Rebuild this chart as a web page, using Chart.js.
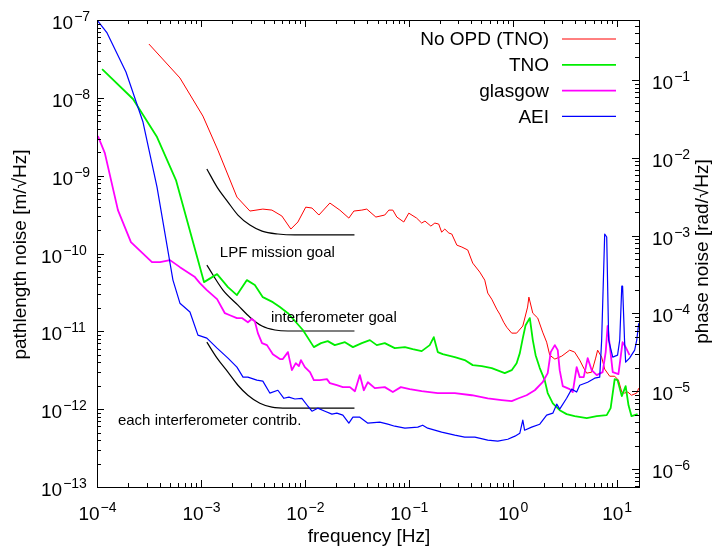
<!DOCTYPE html>
<html><head><meta charset="utf-8">
<script src="https://cdn.jsdelivr.net/npm/chart.js@4"></script>
<style>html,body{margin:0;padding:0;background:#fff;overflow:hidden}canvas{display:block}</style>
</head><body>
<canvas id="c" width="715" height="553"></canvas>
<script>
// ---------- axis ranges & tick labels ----------
const xRange = [1e-4, 16.4];
const leftRange = [1e-13, 1e-7];
const rightRange = [5.9e-7, 0.59];
const xTickExponents = [-4, -3, -2, -1, 0, 1];
const leftTickExponents = [-13, -12, -11, -10, -9, -8, -7];
const rightTickExponents = [-6, -5, -4, -3, -2, -1];
const xTitle = 'frequency [Hz]';
const leftTitle = 'pathlength noise [m/\u221AHz]';
const rightTitle = 'phase noise [rad/\u221AHz]';

// ---------- series: [frequency Hz, pathlength noise m/sqrtHz] ----------
const seriesNames = ['No OPD (TNO)', 'TNO', 'glasgow', 'AEI'];
const seriesColors = ['#ff0000', '#00ee00', '#ff00ff', '#0000ff'];
const seriesWidths = [1, 1.8, 1.8, 1.2];

const noOpdTno = [[3.16e-4,4.91e-8],[6.28e-4,1.8e-8],[1.045e-3,5.83e-9],[1.455e-3,2.13e-9],[2.22e-3,5.31e-10],[2.96e-3,3.51e-10],[3.94e-3,3.72e-10],[4.82e-3,3.61e-10],[6.01e-3,3.03e-10],[7.33e-3,2.06e-10],[8.57e-3,2.54e-10],[1.02e-2,3.94e-10],[1.17e-2,3.84e-10],[1.365e-2,3.12e-10],[1.74e-2,4.45e-10],[2.17e-2,3.61e-10],[2.65e-2,2.85e-10],[2.96e-2,3.51e-10],[3.53e-2,3.61e-10],[3.94e-2,3.72e-10],[4.82e-2,2.94e-10],[5.87e-2,3.12e-10],[6.43e-2,3.61e-10],[7.02e-2,3.61e-10],[7.67e-2,2.94e-10],[8.95e-2,2.54e-10],[0.1,3.30e-10],[0.119,2.85e-10],[0.133,2.46e-10],[0.143,2.61e-10],[0.163,2.25e-10],[0.178,2.46e-10],[0.194,2.39e-10],[0.207,1.88e-10],[0.222,2.06e-10],[0.243,1.83e-10],[0.259,1.78e-10],[0.290,1.28e-10],[0.324,1.21e-10],[0.369,1.11e-10],[0.412,7.53e-11],[0.482,5.77e-11],[0.538,4.55e-11],[0.575,3.10e-11],[0.628,2.59e-11],[0.701,1.93e-11],[0.750,1.66e-11],[0.818,1.31e-11],[0.875,1.13e-11],[0.977,9.48e-12],[1.09,9.48e-12],[1.25,1.17e-11],[1.39,2.05e-11],[1.43,2.75e-11],[1.56,1.71e-11],[1.74,1.48e-11],[1.94,9.77e-12],[2.12,7.26e-12],[2.27,4.94e-12],[2.54,4.40e-12],[2.96,4.80e-12],[3.53,5.73e-12],[3.94,5.41e-12],[4.41,4.27e-12],[4.82,3.37e-12],[5.15,2.90e-12],[5.75,2.99e-12],[6.28,4.53e-12],[6.56,5.73e-12],[7.17,4.66e-12],[7.67,3.27e-12],[8.57,2.65e-12],[9.57,2.65e-12],[10.4,2.36e-12],[11.2,1.66e-12],[11.9,1.61e-12],[12.8,1.66e-12],[13.9,1.51e-12],[15.6,1.61e-12],[16.3,1.86e-12]];

const tno = [[1.12e-4,2.34e-8],[2.22e-4,9.66e-9],[3.78e-4,3.13e-9],[5.75e-4,8.77e-10],[1.07e-3,4.29e-11],[1.43e-3,5.43e-11],[1.82e-3,3.70e-11],[2.22e-3,2.92e-11],[2.77e-3,4.55e-11],[3.30e-3,3.93e-11],[3.94e-3,2.75e-11],[4.92e-3,2.37e-11],[5.75e-3,2.05e-11],[6.87e-3,1.71e-11],[8.38e-3,1.27e-11],[9.57e-3,1.04e-11],[1.22e-2,6.27e-12],[1.43e-2,7.05e-12],[1.66e-2,7.48e-12],[1.94e-2,6.65e-12],[2.43e-2,7.26e-12],[2.90e-2,6.27e-12],[3.53e-2,7.05e-12],[4.22e-2,7.71e-12],[4.92e-2,6.65e-12],[5.87e-2,7.05e-12],[7.33e-2,6.08e-12],[9.17e-2,6.27e-12],[0.109,5.90e-12],[0.133,5.57e-12],[0.159,6.65e-12],[0.174,8.42e-12],[0.190,5.41e-12],[0.212,5.09e-12],[0.277,4.66e-12],[0.345,4.27e-12],[0.412,3.68e-12],[0.504,3.57e-12],[0.628,3.37e-12],[0.838,2.90e-12],[0.977,3.17e-12],[1.09,3.90e-12],[1.17,5.25e-12],[1.25,8.18e-12],[1.33,1.20e-11],[1.46,1.48e-11],[1.56,7.71e-12],[1.66,4.94e-12],[1.82,3.37e-12],[2.03,2.36e-12],[2.17,1.61e-12],[2.43,1.19e-12],[2.83,9.70e-13],[3.30,8.63e-13],[3.94,8.13e-13],[5.15,7.66e-13],[6.43,8.13e-13],[8.02,8.38e-13],[8.75,1.03e-12],[9.57,2.43e-12],[10.2,2.36e-12],[11.2,1.47e-12],[12.2,1.98e-12],[13.0,1.12e-12],[13.9,8.13e-13],[15.9,8.63e-13]];

const glasgow = [[1.02e-4,3.23e-9],[1.19e-4,1.95e-9],[1.59e-4,3.61e-10],[2.12e-4,1.40e-10],[3.38e-4,7.74e-11],[4.04e-4,7.74e-11],[5.04e-4,8.22e-11],[6.28e-4,6.68e-11],[8.75e-4,4.98e-11],[9.77e-4,4.17e-11],[1.14e-3,3.39e-11],[1.43e-3,2.59e-11],[1.70e-3,1.71e-11],[1.90e-3,1.61e-11],[2.22e-3,1.48e-11],[2.48e-3,1.48e-11],[2.83e-3,1.31e-11],[3.09e-3,1.44e-11],[3.30e-3,1.35e-11],[3.53e-3,9.48e-12],[3.87e-3,7.05e-12],[4.32e-3,6.65e-12],[4.92e-3,5.09e-12],[5.75e-3,4.40e-12],[6.14e-3,4.40e-12],[6.87e-3,5.41e-12],[7.50e-3,3.17e-12],[8.18e-3,3.90e-12],[8.75e-3,3.57e-12],[9.17e-3,4.27e-12],[1.0e-2,3.47e-12],[1.12e-2,2.99e-12],[1.22e-2,2.36e-12],[1.39e-2,2.36e-12],[1.63e-2,2.43e-12],[1.74e-2,2.16e-12],[2.03e-2,2.03e-12],[2.32e-2,1.92e-12],[2.71e-2,1.92e-12],[3.03e-2,1.70e-12],[3.38e-2,2.74e-12],[3.69e-2,1.75e-12],[4.04e-2,2.22e-12],[4.71e-2,1.86e-12],[5.87e-2,1.92e-12],[7.02e-2,1.66e-12],[8.38e-2,1.92e-12],[0.102,1.81e-12],[0.133,1.70e-12],[0.190,1.61e-12],[0.277,1.61e-12],[0.404,1.51e-12],[0.575,1.38e-12],[0.783,1.31e-12],[0.977,1.27e-12],[1.14,1.38e-12],[1.36,1.51e-12],[1.63,1.75e-12],[1.94,2.22e-12],[2.17,2.90e-12],[2.32,5.41e-12],[2.54,6.65e-12],[2.71,5.73e-12],[2.83,3.17e-12],[3.03,1.98e-12],[3.53,1.81e-12],[3.78,1.66e-12],[4.12,3.47e-12],[4.41,2.58e-12],[4.82,2.58e-12],[5.26,4.53e-12],[5.75,3.17e-12],[6.43,2.74e-12],[7.33,2.99e-12],[7.84,5.41e-12],[8.18,1.17e-11],[8.57,6.65e-12],[9.17,2.99e-12],[10.4,2.82e-12],[11.4,7.26e-12],[12.2,6.27e-12],[13.3,4.94e-12]];

const aei = [[1.02e-4,9.70e-8],[1.25e-4,6.81e-8],[1.90e-4,2.15e-8],[2.77e-4,4.89e-9],[3.78e-4,7.13e-10],[5.38e-4,4.55e-11],[6.28e-4,2.30e-11],[7.84e-4,1.77e-11],[9.36e-4,8.93e-12],[1.14e-3,8.18e-12],[1.43e-3,6.08e-12],[1.82e-3,4.53e-12],[2.22e-3,3.47e-12],[2.54e-3,2.58e-12],[2.83e-3,2.58e-12],[3.45e-3,2.36e-12],[3.94e-3,2.29e-12],[4.60e-3,1.61e-12],[5.50e-3,1.75e-12],[6.28e-3,1.38e-12],[7.02e-3,1.43e-12],[8.02e-3,1.35e-12],[9.36e-3,1.38e-12],[1.07e-2,1.09e-12],[1.17e-2,9.42e-13],[1.33e-2,1.03e-12],[1.56e-2,9.42e-13],[1.82e-2,8.63e-13],[2.03e-2,8.89e-13],[2.32e-2,8.38e-13],[2.65e-2,6.61e-13],[2.90e-2,7.89e-13],[3.38e-2,7.89e-13],[4.04e-2,6.61e-13],[5.26e-2,6.81e-13],[6.28e-2,6.41e-13],[7.33e-2,6.04e-13],[9.17e-2,5.70e-13],[0.122,5.87e-13],[0.136,6.22e-13],[0.152,5.70e-13],[0.207,5.06e-13],[0.277,4.63e-13],[0.345,4.37e-13],[0.432,4.37e-13],[0.575,4.00e-13],[0.718,3.88e-13],[0.896,4.11e-13],[1.05,4.50e-13],[1.17,4.92e-13],[1.25,7.22e-13],[1.30,5.37e-13],[1.52,5.87e-13],[1.82,6.41e-13],[2.12,8.38e-13],[2.43,8.89e-13],[2.65,1.16e-12],[2.83,1.00e-12],[3.30,1.38e-12],[3.69,1.81e-12],[4.12,1.66e-12],[4.41,2.03e-12],[5.26,2.22e-12],[6.14,2.50e-12],[6.87,2.58e-12],[7.17,7.71e-12],[7.67,1.78e-10],[8.02,1.63e-10],[8.38,7.71e-12],[9.17,4.66e-12],[10.2,4.94e-12],[10.7,7.71e-12],[11.2,3.81e-11],[11.4,3.81e-11],[11.9,7.71e-12],[12.2,4.02e-12],[13.3,4.53e-12],[14.9,5.73e-12],[15.6,7.71e-12],[16.3,1.27e-11]];

// ---------- goal curves ----------
const lpfMissionGoal = [[1.14e-3,1.22e-9],[1.43e-3,7.13e-10],[1.82e-3,4.58e-10],[2.27e-3,3.12e-10],[2.96e-3,2.32e-10],[3.87e-3,1.94e-10],[5.50e-3,1.78e-10],[8.02e-3,1.73e-10],[3.0e-2,1.73e-10]];
const interferometerGoal = [[1.14e-3,7.10e-11],[1.63e-3,3.39e-11],[2.27e-3,2.17e-11],[2.96e-3,1.52e-11],[3.87e-3,1.17e-11],[5.16e-3,1.04e-11],[6.87e-3,1.01e-11],[3.0e-2,1.01e-11]];
const eachInterferometer = [[1.14e-3,7.26e-12],[1.43e-3,4.53e-12],[1.82e-3,2.99e-12],[2.27e-3,2.03e-12],[2.83e-3,1.51e-12],[3.69e-3,1.19e-12],[4.82e-3,1.06e-12],[6.87e-3,1.03e-12],[3.0e-2,1.03e-12]];
const goalLabels = ['LPF mission goal', 'interferometer goal', 'each interferometer contrib.'];
const goalLabelAnchors = [[1.52e-3, 1.01e-10], [4.71e-3, 1.48e-11], [1.59e-4, 7.0e-13]];

// ---------- drawing ----------
const FONT = '"Liberation Sans", Arial, Helvetica, sans-serif';
const toXY = arr => arr.map(p => ({x: p[0], y: p[1]}));
const mainSeries = [noOpdTno, tno, glasgow, aei];

const datasets = mainSeries.map((d, i) => ({
  label: seriesNames[i], data: toXY(d), borderColor: seriesColors[i],
  borderWidth: seriesWidths[i], pointRadius: 0, fill: false, tension: 0,
  yAxisID: 'y', order: 3 - i
}));
[lpfMissionGoal, interferometerGoal, eachInterferometer].forEach((d, i) => datasets.push({
  label: goalLabels[i], data: toXY(d), borderColor: '#000', borderWidth: 1.2,
  pointRadius: 0, fill: false, cubicInterpolationMode: 'monotone', yAxisID: 'y', order: 10
}));

function drawPow(ctx, exp, x, y, mode) {
  const base = '10', sup = String(exp).replace('-', '\u2212');
  ctx.font = '19px ' + FONT; const wb = ctx.measureText(base).width;
  ctx.font = '14px ' + FONT; const ws = ctx.measureText(sup).width;
  let x0 = mode === 'center' ? x - (wb + ws) / 2 : x;
  ctx.textAlign = 'left'; ctx.textBaseline = 'alphabetic'; ctx.fillStyle = '#000';
  ctx.font = '19px ' + FONT; ctx.fillText(base, x0, y);
  ctx.font = '14px ' + FONT; ctx.fillText(sup, x0 + wb + 1, y - 8);
}

const framePlugin = {
  id: 'frame',
  afterDraw(chart) {
    const ctx = chart.ctx, a = chart.chartArea;
    const xs = chart.scales.x, ys = chart.scales.y, y2 = chart.scales.y2;
    ctx.save();
    ctx.strokeStyle = '#000'; ctx.lineWidth = 1;
    ctx.strokeRect(Math.round(a.left) + 0.5, Math.round(a.top) + 0.5, Math.round(a.right - a.left), Math.round(a.bottom - a.top));
    const mult = [1,2,3,4,5,6,7,8,9];
    ctx.beginPath();
    for (let e = -5; e <= 2; e++) for (const m of mult) {
      const v = m * Math.pow(10, e);
      if (v < xRange[0] * 0.999 || v > xRange[1]) continue;
      const px = Math.round(xs.getPixelForValue(v)) + 0.5, L = m === 1 ? 7 : 4;
      ctx.moveTo(px, a.bottom); ctx.lineTo(px, a.bottom - L);
      ctx.moveTo(px, a.top); ctx.lineTo(px, a.top + L);
    }
    for (let e = -14; e <= -7; e++) for (const m of mult) {
      const v = m * Math.pow(10, e);
      if (v < leftRange[0] * 0.999 || v > leftRange[1] * 1.001) continue;
      const py = Math.round(ys.getPixelForValue(v)) + 0.5, L = m === 1 ? 7 : 4;
      ctx.moveTo(a.left, py); ctx.lineTo(a.left + L, py);
    }
    for (let e = -7; e <= 0; e++) for (const m of mult) {
      const v = m * Math.pow(10, e);
      if (v < rightRange[0] || v > rightRange[1]) continue;
      const py = Math.round(y2.getPixelForValue(v)) + 0.5, L = m === 1 ? 7 : 4;
      ctx.moveTo(a.right, py); ctx.lineTo(a.right - L, py);
    }
    ctx.stroke();

    xTickExponents.forEach(e => drawPow(ctx, e, xs.getPixelForValue(Math.pow(10, e)), a.bottom + 33, 'center'));
    leftTickExponents.forEach(e => {
      const n = 2 + String(e).length;
      drawPow(ctx, e, a.left - 1 - 11 * n, ys.getPixelForValue(Math.pow(10, e)) + 9, 'left');
    });
    rightTickExponents.forEach(e => drawPow(ctx, e, a.right + 13, y2.getPixelForValue(Math.pow(10, e)) + 9, 'left'));

    ctx.fillStyle = '#000'; ctx.font = '19px ' + FONT; ctx.textAlign = 'center'; ctx.textBaseline = 'middle';
    ctx.fillText(xTitle, (a.left + a.right) / 2 + 1, a.bottom + 50);
    ctx.save(); ctx.translate(21, (a.top + a.bottom) / 2 + 1); ctx.rotate(-Math.PI / 2); ctx.fillText(leftTitle, 0, 0); ctx.restore();
    ctx.save(); ctx.translate(703, (a.top + a.bottom) / 2 - 2); ctx.rotate(-Math.PI / 2); ctx.fillText(rightTitle, 0, 0); ctx.restore();

    ctx.font = '15px ' + FONT; ctx.textAlign = 'left'; ctx.textBaseline = 'middle';
    goalLabels.forEach((t, i) => ctx.fillText(t, xs.getPixelForValue(goalLabelAnchors[i][0]), ys.getPixelForValue(goalLabelAnchors[i][1])));

    ctx.font = '19px ' + FONT; ctx.textAlign = 'right'; ctx.textBaseline = 'middle';
    seriesNames.forEach((n, i) => {
      const yy = a.top + 19 + i * 25.8;
      ctx.fillStyle = '#000'; ctx.fillText(n, a.right - 90, yy + 1);
      ctx.strokeStyle = seriesColors[i]; ctx.lineWidth = seriesWidths[i];
      ctx.beginPath(); ctx.moveTo(a.right - 77, yy); ctx.lineTo(a.right - 23, yy); ctx.stroke();
    });
    ctx.restore();
  }
};

new Chart(document.getElementById('c').getContext('2d'), {
  type: 'line',
  data: { datasets },
  options: {
    responsive: false, animation: false, devicePixelRatio: 1,
    layout: { padding: { left: 97, right: 76, top: 20, bottom: 66 } },
    plugins: { legend: { display: false }, tooltip: { enabled: false } },
    elements: { point: { radius: 0 }, line: { borderJoinStyle: 'round' } },
    scales: {
      x: { type: 'logarithmic', position: 'bottom', min: xRange[0], max: xRange[1], display: false },
      y: { type: 'logarithmic', position: 'left', min: leftRange[0], max: leftRange[1], display: false },
      y2: { type: 'logarithmic', position: 'right', min: rightRange[0], max: rightRange[1], display: false }
    }
  },
  plugins: [framePlugin]
});
</script>
</body></html>
